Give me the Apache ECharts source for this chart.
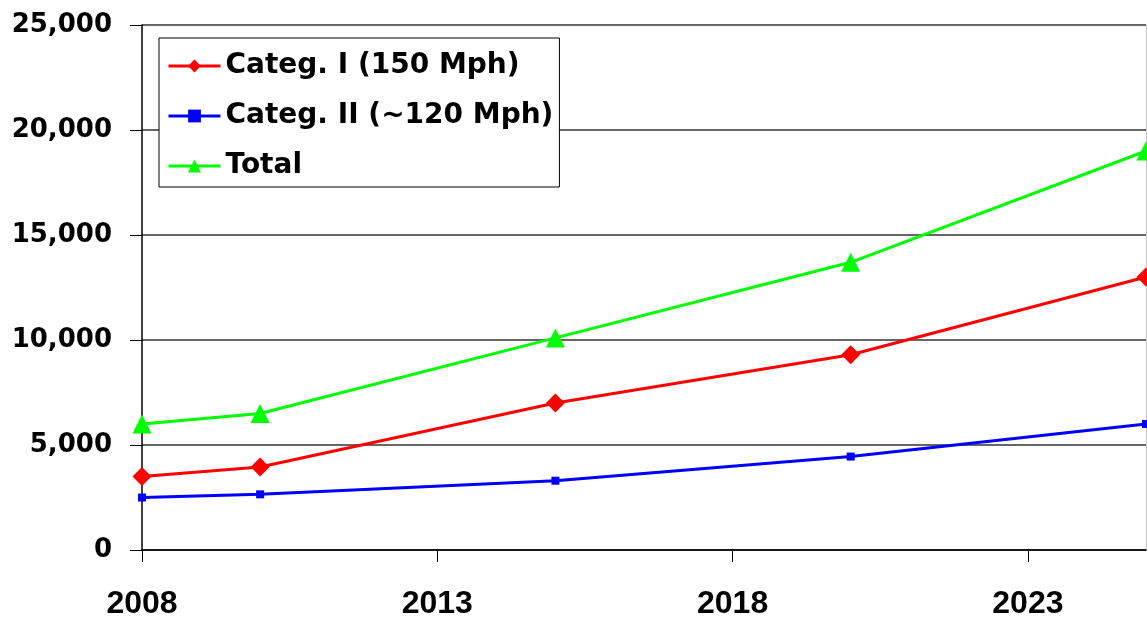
<!DOCTYPE html>
<html>
<head>
<meta charset="utf-8">
<script src="https://cdn.jsdelivr.net/npm/echarts@6/dist/echarts.min.js"></script>
<style>
  html, body { margin: 0; padding: 0; background: #fff; }
  #chart { width: 1147px; height: 620px; }
</style>
</head>
<body>
<div id="chart"></div>
<script>
// Projected fleet size by year
const years = [2008, 2010, 2015, 2020, 2025];
const categI = [3500, 3950, 7000, 9300, 13000];
const categII = [2500, 2650, 3300, 4450, 6000];
const total = [6000, 6500, 10100, 13700, 19000];

const seriesNames = ['Categ. I (150 Mph)', 'Categ. II (~120 Mph)', 'Total'];
const xTicks = [2008, 2013, 2018, 2023];

const pairs = (vals) => years.map((y, i) => [y, vals[i]]);

const chart = echarts.init(document.getElementById('chart'), null, { renderer: 'canvas' });

const labelFont = 'DejaVu Sans';

chart.setOption({
  animation: false,
  backgroundColor: '#fff',
  grid: { left: 142, right: 1, top: 25, bottom: 70, containLabel: false },
  legend: {
    orient: 'vertical',
    left: 159,
    top: 38,
    padding: [11, 6, 4, 8],
    itemGap: 16,
    itemWidth: 52,
    itemHeight: 16,
    backgroundColor: '#fff',
    borderColor: '#000',
    borderWidth: 1,
    borderRadius: 0,
    lineStyle: { width: 3 },
    textStyle: {
      fontFamily: labelFont,
      fontWeight: 'bold',
      fontSize: 28,
      lineHeight: 34,
      color: '#000'
    },
    data: seriesNames
  },
  xAxis: {
    type: 'value',
    min: 2008,
    max: 2025,
    interval: 5,
    axisLine: { show: true, onZero: false, lineStyle: { color: '#000', width: 1.5 } },
    axisTick: { show: true, length: 12, inside: false, lineStyle: { color: '#000', width: 1 } },
    splitLine: { show: false },
    axisLabel: {
      showMaxLabel: false,
      margin: 38,
      fontFamily: 'Liberation Sans',
      fontWeight: 'bold',
      fontSize: 32,
      color: '#000',
      formatter: (v) => (xTicks.includes(v) ? String(v) : '')
    }
  },
  yAxis: [
    {
      type: 'value',
      min: 0,
      max: 25000,
      interval: 5000,
      axisLine: { show: true, lineStyle: { color: '#000', width: 1.5 } },
      axisTick: { show: true, length: 12, lineStyle: { color: '#000', width: 1 } },
      splitLine: { show: true, lineStyle: { color: '#333', width: 1.5 } },
      axisLabel: {
        margin: 30,
        fontFamily: labelFont,
        fontWeight: 'bold',
        fontSize: 26,
        color: '#000',
        formatter: (v) => v.toLocaleString('en-US')
      }
    },
    {
      type: 'value',
      position: 'right',
      min: 0,
      max: 25000,
      interval: 5000,
      axisLine: { show: true, lineStyle: { color: '#c8c8c8', width: 1 } },
      axisTick: { show: false },
      axisLabel: { show: false },
      splitLine: { show: false }
    }
  ],
  series: [
    {
      name: seriesNames[0],
      type: 'line',
      data: pairs(categI),
      color: '#ff0000',
      symbol: 'diamond',
      symbolSize: 19,
      lineStyle: { width: 3, color: '#ff0000' },
      itemStyle: { color: '#ff0000' },
      z: 3
    },
    {
      name: seriesNames[1],
      type: 'line',
      data: pairs(categII),
      color: '#0000ff',
      symbol: 'rect',
      symbolSize: 8,
      lineStyle: { width: 3, color: '#0000ff' },
      itemStyle: { color: '#0000ff' },
      z: 3
    },
    {
      name: seriesNames[2],
      type: 'line',
      data: pairs(total),
      color: '#00ff00',
      symbol: 'triangle',
      symbolSize: 19,
      lineStyle: { width: 3, color: '#00ff00' },
      itemStyle: { color: '#00ff00' },
      z: 3
    }
  ]
});
</script>
</body>
</html>
